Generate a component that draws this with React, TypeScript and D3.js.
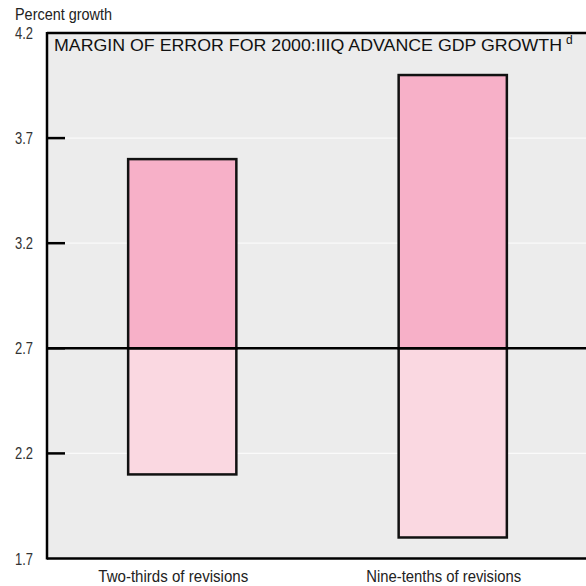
import React from "react";
import * as d3 from "d3";

const categories = ["Two-thirds of revisions", "Nine-tenths of revisions"];
const lowValues = [2.1, 1.8];
const highValues = [3.6, 4.0];
const advanceEstimate = 2.7;
const yTicks = [1.7, 2.2, 2.7, 3.2, 3.7, 4.2];
const title = "MARGIN OF ERROR FOR 2000:IIIQ ADVANCE GDP GROWTH";

const W = 586;
const H = 586;
const left = 47;
const right = 590;
const top = 33;
const bottom = 558.5;
const sans = "'Liberation Sans', Arial, sans-serif";

export default function App() {
  const y = d3.scaleLinear().domain([1.7, 4.2]).range([bottom, top]);
  const x = d3.scaleBand<string>().domain(categories).range([left, 588]).paddingInner(0.6).paddingOuter(0.3);
  const bw = x.bandwidth();
  const labelWidths = [150, 155];
  return (
    <svg width={W} height={H} style={{ position: "absolute", left: 0, top: 0, display: "block" }}>
      <rect x={0} y={0} width={W} height={H} fill="#ffffff" />
      <text x={15} y={20} fontFamily={sans} fontSize={16} fill="#222" textLength={97} lengthAdjust="spacingAndGlyphs">Percent growth</text>
      <rect x={left} y={top} width={right - left} height={bottom - top} fill="#ececec" />
      {yTicks.filter((t) => t !== 1.7 && t !== 4.2 && t !== advanceEstimate).map((t) => (
        <line key={"g" + t} x1={left} x2={right} y1={y(t)} y2={y(t)} stroke="#fafafa" strokeWidth={1.2} />
      ))}
      {categories.map((c, i) => (
        <g key={c}>
          <rect x={x(c)} y={y(highValues[i])} width={bw} height={y(advanceEstimate) - y(highValues[i])} fill="#f7b0c8" stroke="#111" strokeWidth={2.5} />
          <rect x={x(c)} y={y(advanceEstimate)} width={bw} height={y(lowValues[i]) - y(advanceEstimate)} fill="#fad8e1" stroke="#111" strokeWidth={2.5} />
        </g>
      ))}
      <line x1={left} x2={right} y1={y(advanceEstimate)} y2={y(advanceEstimate)} stroke="#000" strokeWidth={2.5} />
      <line x1={left} x2={right} y1={top} y2={top} stroke="#000" strokeWidth={2.5} />
      <line x1={left} x2={right} y1={bottom} y2={bottom} stroke="#000" strokeWidth={2.5} />
      <line x1={left} x2={left} y1={top - 1} y2={bottom + 1} stroke="#000" strokeWidth={2.5} />
      {yTicks.map((t) => (
        <g key={"t" + t}>
          {t !== 1.7 && t !== 4.2 && (
            <line x1={left} x2={left + 18} y1={y(t)} y2={y(t)} stroke="#000" strokeWidth={2.5} />
          )}
          <text x={15} y={y(t) + 6} fontFamily={sans} fontSize={16.5} fill="#333" textLength={18} lengthAdjust="spacingAndGlyphs">{t.toFixed(1)}</text>
        </g>
      ))}
      <text x={54} y={51} fontFamily={sans} fontSize={16.8} fill="#111" textLength={508} lengthAdjust="spacingAndGlyphs">{title}</text>
      <text x={566} y={44} fontFamily={sans} fontSize={12} fill="#111">d</text>
      {categories.map((c, i) => (
        <text key={"l" + c} x={(x(c) as number) + bw / 2 - 9} y={582} textAnchor="middle" fontFamily={sans} fontSize={17} fill="#222" textLength={labelWidths[i]} lengthAdjust="spacingAndGlyphs">{c}</text>
      ))}
    </svg>
  );
}
